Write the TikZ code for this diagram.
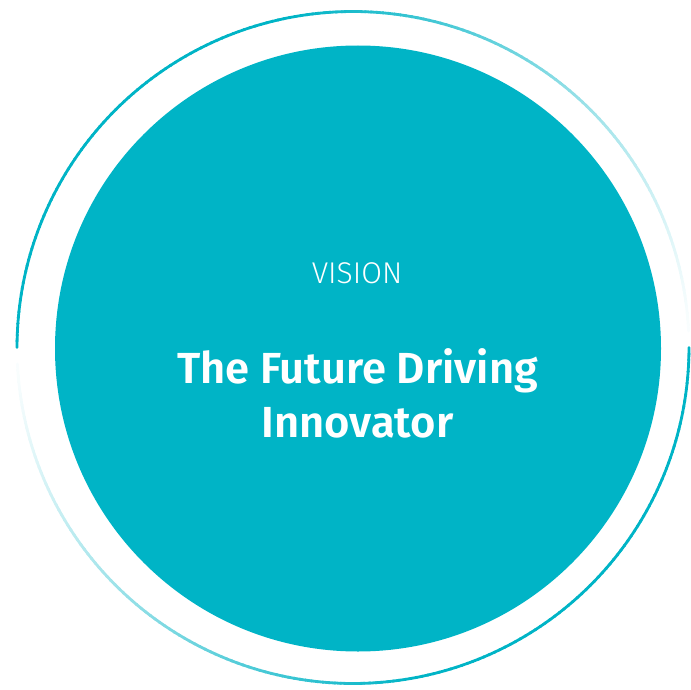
\documentclass[tikz,border=0pt]{standalone}
\usepackage{fontspec}
\setmainfont{Fira Sans}
\newfontfamily\firalight{Fira Sans Light}
\newfontfamily\firasemi{Fira Sans SemiBold}
\definecolor{tealmain}{RGB}{0,180,198}
\tikzset{
  ringseg/.style={line width=2.8pt, line cap=round},
  lbl/.style={text=white, inner sep=0pt, anchor=base},
}
\begin{document}
\begin{tikzpicture}[x=1pt,y=-1pt]
\useasboundingbox (0,0) rectangle (691,690);
\node[circle, fill=tealmain, minimum size=606pt, inner sep=0pt] (disc) at (358,348.5) {};
% upper ring arc, fading toward the right
\foreach \a in {180,179,...,4} {
  \pgfmathsetmacro\xa{353+336*cos(\a)}
  \pgfmathsetmacro\ya{347.5-336*sin(\a)}
  \pgfmathsetmacro\xb{353+336*cos(\a-1.2)}
  \pgfmathsetmacro\yb{347.5-336*sin(\a-1.2)}
  \pgfmathsetmacro\t{min(1,max(0.001,(690-\xa)/400))}
  \pgfmathsetmacro\p{100*\t^0.7}
  \coordinate (ua) at (\xa,\ya);
  \coordinate (ub) at (\xb,\yb);
  \draw[ringseg, color=tealmain!\p!white] (ua) -- (ub);
}
% lower ring arc, fading toward the left
\foreach \a in {0,-1,...,-176} {
  \pgfmathsetmacro\xa{353+336*cos(\a)}
  \pgfmathsetmacro\ya{347.5-336*sin(\a)}
  \pgfmathsetmacro\xb{353+336*cos(\a-1.2)}
  \pgfmathsetmacro\yb{347.5-336*sin(\a-1.2)}
  \pgfmathsetmacro\t{min(1,max(0.001,(\xa-16)/400))}
  \pgfmathsetmacro\p{100*\t^0.7}
  \coordinate (la) at (\xa,\ya);
  \coordinate (lb) at (\xb,\yb);
  \draw[ringseg, color=tealmain!\p!white] (la) -- (lb);
}
\node[lbl, font=\firalight\fontsize{30}{36}\selectfont] (vision) at (357,283) {VISION};
\node[lbl, font=\firasemi\fontsize{43.5}{54}\selectfont] (title1) at (357.5,383) {The Future Driving};
\node[lbl, font=\firasemi\fontsize{43.5}{54}\selectfont] (title2) at (357.5,437) {Innovator};
\end{tikzpicture}
\end{document}
